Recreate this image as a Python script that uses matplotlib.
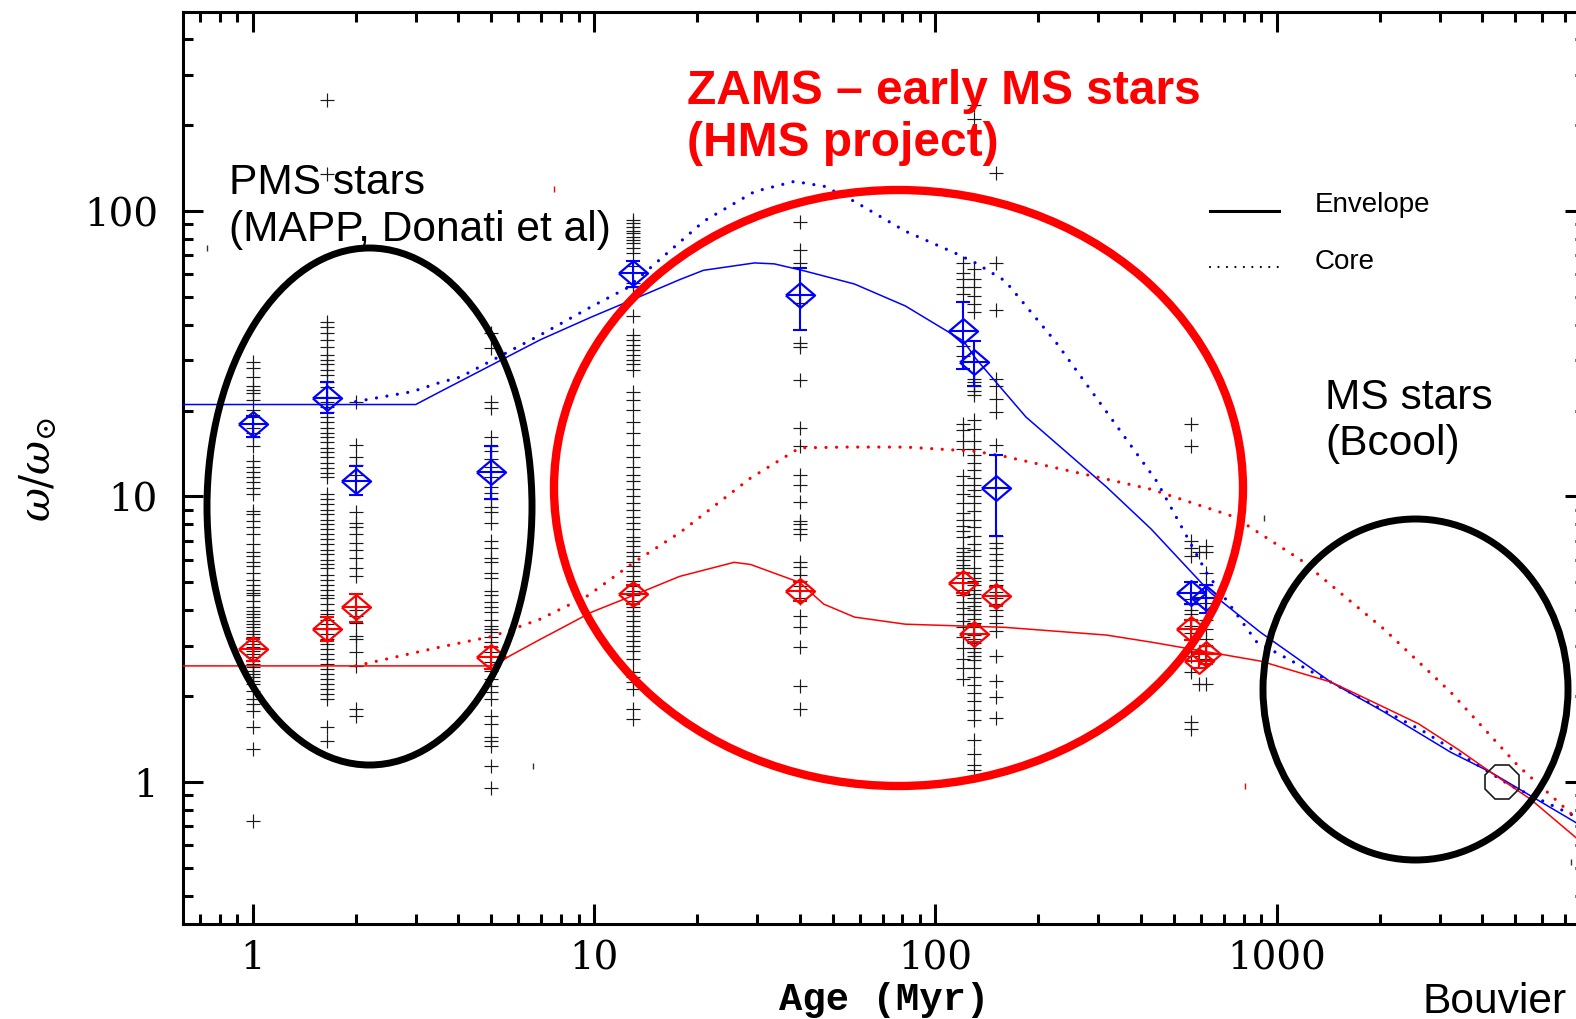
import numpy as np
import matplotlib
matplotlib.use("Agg")
import matplotlib.pyplot as plt
from matplotlib.patches import Ellipse
from matplotlib.ticker import FixedLocator, FixedFormatter, LogLocator, NullFormatter

# individual stars (black crosses), omega / omega_sun, one list per cluster age (Myr)
star_1 = [29.6, 28.3, 26.3, 24.3, 23.7, 23.1, 21.8, 20.1, 19.0, 17.4, 16.7, 16.1, 15.0, 13.3,
          12.7, 12.2, 11.7, 11.2, 10.7, 10.2, 8.9, 8.65, 8.2, 7.8, 7.4, 6.8, 6.4, 6.2, 5.9, 5.7,
          5.4, 5.1, 4.9, 4.7, 4.6, 4.5, 4.3, 4.1, 3.96, 3.87, 3.78, 3.65, 3.57, 3.48, 3.37, 3.29,
          3.21, 3.11, 3.04, 2.97, 2.87, 2.80, 2.74, 2.65, 2.59, 2.52, 2.44, 2.39, 2.33, 2.25,
          2.20, 2.08, 1.95, 1.87, 1.77, 1.56, 1.30, 0.73]
star_1p65 = [245, 135, 40.9, 39.3, 37.4, 35.4, 33.4, 31.4, 30.1, 29.0, 27.8, 26.7, 25.1, 24.1,
             22.4, 21.5, 20.6, 19.8, 19.0, 18.3, 17.4, 16.7, 16.1, 15.5, 14.8, 14.3, 13.7, 13.1,
             12.6, 12.1, 11.7, 10.2, 9.8, 9.4, 9.0, 8.65, 8.3, 8.0, 7.7, 7.4, 7.1, 6.8, 6.5, 6.3,
             6.0, 5.8, 5.6, 5.3, 5.1, 4.9, 4.7, 4.5, 4.4, 4.2, 4.0, 3.87, 3.7, 3.57, 3.43, 3.29,
             3.16, 3.04, 2.92, 2.80, 2.69, 2.59, 2.48, 2.39, 2.29, 2.20, 2.11, 2.03, 1.95, 1.56, 1.39]
star_2 = [21.5, 15.2, 13.7, 12.9, 11.9, 8.8, 8.1, 7.8, 7.4, 6.9, 6.5, 6.1, 5.6, 5.25, 4.0, 3.8,
          3.6, 3.24, 3.16, 2.85, 2.55, 1.80, 1.70]
star_5 = [37.4, 33.2, 21.5, 20.5, 16.2, 15.0, 14.4, 13.5, 12.7, 11.7, 10.8, 10.3, 9.8, 9.2, 8.8,
          8.1, 7.0, 6.6, 6.1, 5.9, 5.4, 5.2, 4.65, 4.5, 4.26, 4.1, 3.93, 3.7, 3.51, 3.43, 3.35,
          3.21, 3.09, 2.97, 2.85, 2.63, 2.44, 2.29, 2.17, 2.06, 1.95, 1.70, 1.60, 1.44, 1.39,
          1.34, 1.14, 0.95]
star_13 = [93, 91, 88, 85, 84, 81, 79, 77, 74, 71, 64, 56, 54, 43, 36.8, 35.4, 34.0, 32.6, 31.4,
           30.1, 29.0, 27.8, 23.3, 21.8, 20.1, 18.3, 16.7, 15.2, 13.7, 12.7, 11.9, 11.3, 10.6,
           10.0, 9.5, 9.0, 8.5, 8.1, 7.7, 7.2, 7.0, 6.7, 6.4, 6.2, 5.9, 5.7, 5.5, 5.25, 5.05,
           4.85, 4.65, 4.5, 4.3, 4.1, 3.96, 3.8, 3.65, 3.51, 3.37, 3.24, 3.11, 2.99, 2.87, 2.69,
           2.42, 2.33, 2.24, 2.11, 1.80, 1.66]
star_40 = [91.6, 73, 66, 47.7, 34.5, 33.4, 25.6, 17.4, 15.0, 11.9, 11.0, 9.6, 8.2, 8.0, 7.7, 7.4,
           5.9, 5.65, 5.3, 5.05, 4.85, 4.4, 3.8, 3.5, 2.97, 2.17, 1.8]
star_120 = [66, 60.7, 57.8, 54, 51.4, 33.8, 31.1, 17.9, 17.1, 15.7, 14.7, 11.8, 11.0, 10.2, 9.5,
            8.75, 8.3, 7.9, 7.55, 7.2, 6.6, 6.4, 6.2, 6.0, 5.75, 5.6, 5.4, 5.2, 4.7, 4.5, 4.27,
            4.06, 3.87, 3.67, 3.49, 3.21, 2.95, 2.7, 2.5, 2.3]
star_130 = [235, 210, 62.8, 57.8, 54, 50.5, 47.3, 44.4, 25.9, 25.1, 24.3, 23.5, 22.7, 18.6, 17.3,
            15.7, 14.7, 14.0, 13.1, 12.4, 11.6, 11.0, 10.5, 10.0, 9.5, 8.9, 8.3, 7.8, 7.3, 6.8,
            6.5, 6.2, 5.6, 5.4, 5.2, 5.05, 4.9, 4.7, 4.56, 4.41, 4.27, 4.12, 3.99, 3.87, 3.73,
            3.61, 3.49, 3.27, 3.16, 3.06, 2.95, 2.86, 2.76, 2.67, 2.50, 2.34, 2.19, 2.05, 1.92,
            1.79, 1.65, 1.4, 1.25, 1.15, 1.1]
star_150 = [136, 66, 45, 25.9, 24.3, 21.9, 19.8, 15.2, 7.3, 6.9, 6.6, 6.3, 6.0, 5.7, 5.4, 5.1,
            4.9, 4.64, 4.41, 4.19, 3.99, 3.80, 3.61, 3.37, 2.76, 2.26, 1.98, 1.67]
star_560 = [17.9, 15.0, 6.98, 6.6, 6.2, 4.36, 4.2, 4.0, 3.87, 3.7, 3.52, 3.33, 3.16, 2.76, 2.42,
            1.62, 1.53]
star_590 = [6.4, 2.2]
star_620 = [6.7, 6.4, 5.4, 4.9, 4.25, 3.7, 3.43, 3.16, 3.0, 2.84, 2.69, 2.2]

cluster_ages = [1, 1.65, 2, 5, 13, 40, 120, 130, 150, 560, 590, 620]
cluster_stars = [star_1, star_1p65, star_2, star_5, star_13, star_40, star_120, star_130,
                 star_150, star_560, star_590, star_620]

# fast rotators (blue) and slow rotators (red): cluster percentiles with error bars
fast_age = [1, 1.65, 2, 5, 13, 40, 120, 130, 150, 560, 620]
fast_om = [17.9, 22.2, 11.3, 12.2, 60.7, 50.9, 38, 29.6, 10.7, 4.6, 4.4]
fast_lo = [16.1, 19.6, 10.1, 9.8, 54, 38.4, 28, 24.3, 7.3, 4.2, 3.9]
fast_hi = [19.2, 25.1, 12.8, 15.0, 67, 63, 48, 35, 14.0, 5.0, 4.9]

slow_age = [1, 1.65, 2, 5, 13, 40, 120, 130, 150, 560, 590, 620]
slow_om = [2.92, 3.43, 4.09, 2.73, 4.55, 4.65, 4.97, 3.31, 4.48, 3.43, 2.66, 2.8]
slow_lo = [2.65, 3.11, 3.62, 2.48, 4.2, 4.3, 4.6, 3.1, 4.15, 3.15, 2.5, 2.6]
slow_hi = [3.16, 3.77, 4.54, 2.97, 4.9, 5.0, 5.4, 3.55, 4.8, 3.7, 2.85, 3.0]

# model tracks
env_fast_age = [0.624, 3.0, 3.54, 6.95, 9.8, 13.0, 17.8, 20.9, 29.5, 33.7, 41.3, 57.9, 81.6,
                121, 131, 184, 317, 428, 640, 897, 1439, 2061, 3236, 4245, 8000]
env_fast_om = [21.0, 21.0, 23.3, 35.4, 42.5, 49, 57.5, 62, 65.8, 65.3, 61.7, 55.5, 46.5,
               35, 30.5, 19.0, 10.8, 7.7, 4.6, 3.34, 2.24, 1.76, 1.27, 1.08, 0.69]
core_fast_age = [2.0, 2.93, 3.54, 4.05, 6.95, 9.8, 12.5, 21.0, 29.5, 38.6, 47.3, 57.9, 81.6,
                 114, 131, 160, 225, 317, 445, 623, 874, 1510, 2700, 4850, 8000]
core_fast_om = [21.5, 23.3, 25.1, 26.2, 36.8, 46.2, 53.8, 92.3, 117, 127, 122, 108, 85,
                71.3, 65.8, 56.9, 34.8, 19.8, 11.3, 5.4, 3.09, 2.17, 1.50, 0.97, 0.73]
env_slow_age = [0.624, 5.0, 6.95, 8.1, 9.8, 13.0, 17.8, 25.7, 28.7, 40, 47, 57.9, 81.6, 160,
                317, 428, 897, 1439, 1840, 2600, 3400, 4245, 5540, 8000]
env_slow_om = [2.55, 2.55, 3.16, 3.48, 3.93, 4.5, 5.25, 5.88, 5.78, 5.0, 4.2, 3.78, 3.57, 3.48,
               3.27, 3.09, 2.65, 2.24, 1.95, 1.60, 1.30, 1.08, 0.87, 0.60]
core_slow_age = [2.0, 3.54, 5.05, 6.95, 9.6, 13, 17.9, 28.7, 40, 55, 81.6, 131, 160, 317, 428,
                 748, 1175, 2061, 3236, 5090, 8000]
core_slow_om = [2.55, 2.97, 3.24, 3.72, 4.5, 5.85, 7.5, 11.6, 14.8, 14.9, 14.9, 14.4, 13.8,
                11.5, 10.6, 8.5, 6.0, 3.43, 2.06, 1.14, 0.70]

sun_age, sun_om = [4570], [1.0]
stray_k_age, stray_k_om = [0.733, 6.62, 916, 7300], [74.4, 1.14, 8.4, 0.525]
stray_r_age, stray_r_om = [7.6, 805], [119, 0.97]

plt.rcParams.update({"font.family": "DejaVu Serif", "mathtext.fontset": "dejavuserif"})
SANS = "Liberation Sans"
W, H = 1576, 1020
DOT = (0, (0.01, 3.3))

fig = plt.figure(figsize=(W / 100, H / 100), dpi=100)
ax = fig.add_axes([183 / W, 1 - 925 / H, (1585 - 183) / W, (925 - 13) / H])
ax.set_xscale("log"); ax.set_yscale("log")
ax.set_xlim(0.624, 8000); ax.set_ylim(0.318, 498)

for age, vals in zip(cluster_ages, cluster_stars):
    ax.plot(np.full(len(vals), age), vals, "+", color="0.1", ms=10, mew=0.85, zorder=2)

ax.plot(env_fast_age, env_fast_om, "-", color="blue", lw=1.1, zorder=3)
ax.plot(core_fast_age, core_fast_om, color="blue", lw=2.3, ls=DOT, dash_capstyle="round", zorder=3)
ax.plot(env_slow_age, env_slow_om, "-", color="red", lw=1.1, zorder=3)
ax.plot(core_slow_age, core_slow_om, color="red", lw=2.3, ls=DOT, dash_capstyle="round", zorder=3)

diamond = [(-1, 0), (0, 0.85), (1, 0), (0, -0.85), (-1, 0)]
for a, o, lo, hi, col in [(fast_age, fast_om, fast_lo, fast_hi, "blue"),
                          (slow_age, slow_om, slow_lo, slow_hi, "red")]:
    err = [np.subtract(o, lo), np.subtract(hi, o)]
    ax.errorbar(a, o, yerr=err, fmt="none", ecolor=col, elinewidth=1.5, capsize=4.8,
                capthick=1.5, zorder=4)
    ax.plot(a, o, ls="none", marker=diamond, ms=21, mfc="none", mec=col, mew=1.6, zorder=4)
    ax.plot(a, o, ls="none", marker="_", ms=20, mec=col, mew=1.5, zorder=4)

ax.plot(sun_age, sun_om, ls="none", marker="8", ms=26, mfc="none", mec="0.1", mew=1.2, zorder=5)
ax.plot(stray_k_age, stray_k_om, ls="none", marker="|", ms=5, mec="0.2", mew=1)
ax.plot(stray_r_age, stray_r_om, ls="none", marker="|", ms=5, mec="red", mew=1)

ax.xaxis.set_major_locator(FixedLocator([1, 10, 100, 1000]))
ax.xaxis.set_major_formatter(FixedFormatter(["1", "10", "100", "1000"]))
ax.yaxis.set_major_locator(FixedLocator([1, 10, 100]))
ax.yaxis.set_major_formatter(FixedFormatter(["1", "10", "100"]))
for axis in (ax.xaxis, ax.yaxis):
    axis.set_minor_locator(LogLocator(base=10, subs=np.arange(2, 10), numticks=30))
    axis.set_minor_formatter(NullFormatter())
ax.tick_params(which="both", direction="in", top=True, right=True, width=2.2, labelsize=28)
ax.tick_params(which="major", length=14.4)
ax.tick_params(which="minor", length=7.2)
ax.tick_params(axis="x", pad=11)
ax.tick_params(axis="y", pad=18)
for s in ax.spines.values():
    s.set_linewidth(2.2)

ax.set_xlabel("Age (Myr)", family="Liberation Mono", fontweight="bold", fontsize=28)
ax.xaxis.set_label_coords(0.5, -(1010 - 925) / 912)
ax.xaxis.label.set_va("baseline")
ax.set_ylabel(r"$\omega/\omega_{\odot}$", fontsize=30)
ax.yaxis.set_label_coords((38 - 183) / 1402, 0.5)
ax.yaxis.label.set_va("center")

# annotation layer in pixel coordinates
ov = fig.add_axes([0, 0, 1, 1], facecolor="none")
ov.set_xlim(0, W); ov.set_ylim(H, 0); ov.axis("off")
ov.add_patch(Ellipse((369.5, 507.5), 325, 517, fill=False, ec="k", lw=5))
ov.add_patch(Ellipse((898.5, 489), 689, 596, fill=False, ec="red", lw=6))
ov.add_patch(Ellipse((1415.5, 690.5), 305, 341, fill=False, ec="k", lw=5))

ov.text(687, 104, "ZAMS – early MS stars", color="red", fontsize=34.5, fontweight="bold",
        family=SANS, va="baseline")
ov.text(687, 156, "(HMS project)", color="red", fontsize=34.5, fontweight="bold",
        family=SANS, va="baseline")
ov.text(229, 194, "PMS stars", fontsize=30.6, family=SANS, va="baseline")
ov.text(229, 241, "(MAPP, Donati et al)", fontsize=30.6, family=SANS, va="baseline")
ov.text(1325, 409, "MS stars", fontsize=30.6, family=SANS, va="baseline")
ov.text(1325, 455, "(Bcool)", fontsize=30.6, family=SANS, va="baseline")
ov.text(1423, 1013, "Bouvier", fontsize=30.6, family=SANS, va="baseline")

ov.plot([1210, 1279], [212, 212], "-", color="k", lw=2.2)
ov.plot([1210, 1279], [268, 268], color="k", lw=1.6, ls=(0, (0.01, 3.8)), dash_capstyle="round")
ov.text(1315, 212, "Envelope", fontsize=20, family=SANS, va="baseline")
ov.text(1315, 269, "Core", fontsize=20, family=SANS, va="baseline")

fig.savefig("out.png", dpi=100)
